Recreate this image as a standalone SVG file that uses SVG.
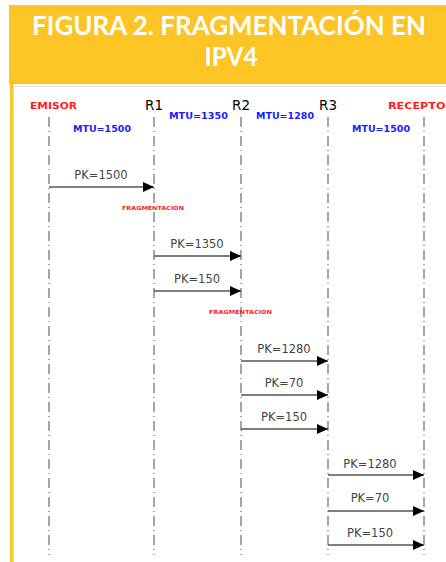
<svg xmlns="http://www.w3.org/2000/svg" width="446" height="562" viewBox="0 0 446 562">
<style>
.title{font-family:Lato,"Open Sans","Liberation Sans",sans-serif;font-weight:bold;font-size:26px;fill:#ffffff;text-anchor:middle}
.ent{font-family:"DejaVu Sans",sans-serif;font-weight:bold;font-size:9.5px;fill:#ff1a1a}
.rt{font-family:"DejaVu Sans",sans-serif;font-size:13.5px;fill:#000}
.mtu{font-family:"DejaVu Sans",sans-serif;font-weight:bold;font-size:9.5px;fill:#1a1aff}
.pk{font-family:"DejaVu Sans",sans-serif;font-size:11.5px;fill:#444;text-anchor:middle}
.frag{font-family:"DejaVu Sans",sans-serif;font-weight:bold;font-size:5.5px;fill:#ff1a1a}
.life{stroke:#777;stroke-width:1.3;stroke-dasharray:10,4,1,4;fill:none}
.msg{stroke:#555;stroke-width:1.3;fill:none;marker-end:url(#ah)}
</style>
<defs>
<marker id="ah" markerWidth="11" markerHeight="10" refX="11" refY="5" orient="auto" markerUnits="userSpaceOnUse">
<path d="M0,0 L11,5 L0,10 Z" fill="#000"/>
</marker>
</defs>
<rect x="0" y="0" width="446" height="562" fill="#fff"/>
<g id="header">
<rect x="9" y="5" width="437" height="79" fill="#fcc424"/>
<rect x="10" y="84" width="3.5" height="478" fill="#fcc424"/>
<line x1="14" y1="86.5" x2="446" y2="86.5" stroke="#e6e6e6" stroke-width="1"/>
<text class="title" x="229" y="35" textLength="394" lengthAdjust="spacingAndGlyphs">FIGURA 2. FRAGMENTACIÓN EN</text>
<text class="title" x="231" y="66" textLength="53" lengthAdjust="spacingAndGlyphs">IPV4</text>
</g>
<g id="emisor">
<text class="ent" x="30" y="109" textLength="47" lengthAdjust="spacingAndGlyphs">EMISOR</text>
<line class="life" x1="49" y1="117" x2="49" y2="555"/>
</g>
<g id="r1">
<text class="rt" x="145" y="110">R1</text>
<line class="life" x1="154" y1="117" x2="154" y2="555"/>
</g>
<g id="r2">
<text class="rt" x="232" y="110">R2</text>
<line class="life" x1="241" y1="117" x2="241" y2="555"/>
</g>
<g id="r3">
<text class="rt" x="319" y="110">R3</text>
<line class="life" x1="328" y1="117" x2="328" y2="555"/>
</g>
<g id="receptor">
<text class="ent" x="388" y="109" textLength="66" lengthAdjust="spacingAndGlyphs">RECEPTOR</text>
<line class="life" x1="424" y1="117" x2="424" y2="555"/>
</g>
<g id="labels">
<text class="mtu" x="73" y="132" textLength="58" lengthAdjust="spacingAndGlyphs">MTU=1500</text>
<text class="mtu" x="169" y="119" textLength="59" lengthAdjust="spacingAndGlyphs">MTU=1350</text>
<text class="mtu" x="256" y="119" textLength="58" lengthAdjust="spacingAndGlyphs">MTU=1280</text>
<text class="mtu" x="352" y="132" textLength="58" lengthAdjust="spacingAndGlyphs">MTU=1500</text>
<text class="frag" x="122" y="210" textLength="62" lengthAdjust="spacingAndGlyphs">FRAGMENTACIÓN</text>
<text class="frag" x="209" y="314" textLength="63" lengthAdjust="spacingAndGlyphs">FRAGMENTACIÓN</text>
</g>
<g id="connectors">
<line class="msg" x1="49" y1="187" x2="154" y2="187"/>
<text class="pk" x="101" y="179">PK=1500</text>
<line class="msg" x1="154" y1="256" x2="241" y2="256"/>
<text class="pk" x="197" y="248">PK=1350</text>
<line class="msg" x1="154" y1="291" x2="241" y2="291"/>
<text class="pk" x="197" y="283">PK=150</text>
<line class="msg" x1="241" y1="361" x2="328" y2="361"/>
<text class="pk" x="284" y="353">PK=1280</text>
<line class="msg" x1="241" y1="395" x2="328" y2="395"/>
<text class="pk" x="284" y="387">PK=70</text>
<line class="msg" x1="241" y1="429" x2="328" y2="429"/>
<text class="pk" x="284" y="421">PK=150</text>
<line class="msg" x1="328" y1="475" x2="424" y2="475"/>
<text class="pk" x="370" y="468">PK=1280</text>
<line class="msg" x1="328" y1="511" x2="424" y2="511"/>
<text class="pk" x="370" y="502">PK=70</text>
<line class="msg" x1="328" y1="545" x2="424" y2="545"/>
<text class="pk" x="370" y="537">PK=150</text>
</g>
</svg>
